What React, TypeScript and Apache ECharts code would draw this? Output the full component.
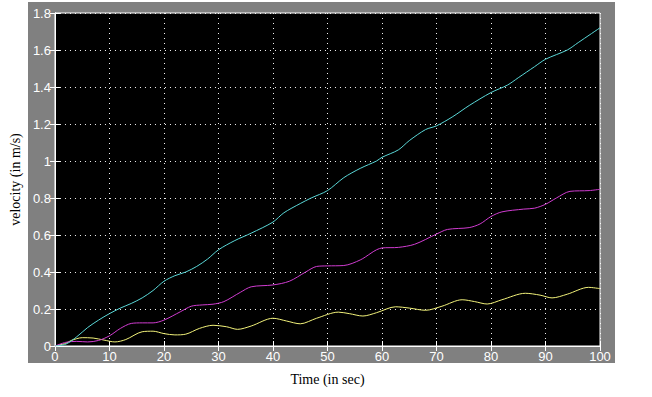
import React, { useEffect, useRef } from "react";
import * as echarts from "echarts";

const xTicks = [0, 10, 20, 30, 40, 50, 60, 70, 80, 90, 100];
const yTicks = [0, 0.2, 0.4, 0.6, 0.8, 1, 1.2, 1.4, 1.6, 1.8];

const cyanT = [0, 2, 4, 6, 8, 10, 12, 14, 16, 18, 20, 22, 24, 26, 28, 30, 33, 36, 40, 42, 45, 47, 50, 53, 56, 59, 60, 63, 65, 68, 70, 73, 76, 80, 83, 85, 88, 90, 94, 96, 100];
const cyanV = [0, 0.01, 0.05, 0.1, 0.14, 0.175, 0.205, 0.23, 0.26, 0.3, 0.35, 0.38, 0.4, 0.43, 0.47, 0.52, 0.57, 0.61, 0.67, 0.72, 0.77, 0.8, 0.84, 0.91, 0.96, 1.0, 1.02, 1.06, 1.11, 1.17, 1.19, 1.24, 1.3, 1.37, 1.41, 1.45, 1.51, 1.55, 1.6, 1.64, 1.72];

const magentaT = [0, 2, 4, 6, 8, 10, 12, 14, 16, 18, 20, 23, 25, 27, 29, 31, 34, 36, 40, 43, 46, 48, 50, 53, 56, 60, 63, 66, 70, 72, 76, 78, 80, 82, 86, 88, 90, 92, 94.5, 98, 100];
const magentaV = [0, 0.02, 0.025, 0.022, 0.03, 0.055, 0.095, 0.122, 0.125, 0.125, 0.14, 0.185, 0.215, 0.222, 0.226, 0.24, 0.29, 0.32, 0.33, 0.35, 0.4, 0.43, 0.433, 0.435, 0.465, 0.53, 0.533, 0.55, 0.605, 0.63, 0.64, 0.66, 0.7, 0.725, 0.74, 0.745, 0.766, 0.8, 0.836, 0.84, 0.847];

const yellowT = [0, 2, 3, 5, 7, 9, 11, 13, 16, 18, 20, 22, 24, 26.5, 29, 31.5, 33.5, 36, 40, 42.5, 45, 48, 52, 54, 56.5, 59, 62.5, 65, 68, 71, 74.7, 77, 79.3, 82, 86.3, 89, 91.2, 94, 97.9, 100];
const yellowV = [0, 0.015, 0.03, 0.045, 0.043, 0.032, 0.022, 0.035, 0.077, 0.08, 0.067, 0.06, 0.064, 0.095, 0.112, 0.104, 0.09, 0.108, 0.15, 0.135, 0.12, 0.15, 0.183, 0.175, 0.162, 0.18, 0.212, 0.205, 0.193, 0.215, 0.25, 0.24, 0.227, 0.25, 0.285, 0.275, 0.26, 0.28, 0.317, 0.31];

const pairs = (t: number[], v: number[]) => t.map((x, i) => [x, v[i]]);

export default function App() {
  const ref = useRef<HTMLDivElement>(null);
  useEffect(() => {
    if (!ref.current) return;
    const chart = echarts.init(ref.current, undefined, { renderer: "svg" });
    const labelFont = { color: "#ffffff", fontSize: 13, fontFamily: "Liberation Sans, Arial, sans-serif" };
    const grid = "rgba(255,255,255,0.95)";
    const mkLine = (name: string, color: string, t: number[], v: number[]) => ({
      name,
      type: "line",
      data: pairs(t, v),
      showSymbol: false,
      smooth: 0.3,
      lineStyle: { color, width: 1 },
      xAxisIndex: 0,
      yAxisIndex: 0,
    });
    chart.setOption({
      animation: false,
      backgroundColor: "#ffffff",
      graphic: [
        {
          type: "rect",
          z: -10,
          silent: true,
          shape: { x: 28, y: 2, width: 587, height: 361 },
          style: { fill: "#808080" },
        },
      ],
      grid: {
        left: 54,
        top: 13,
        width: 546,
        height: 333,
        show: true,
        backgroundColor: "#000000",
        borderColor: "#ffffff",
        borderWidth: 1,
      },
      xAxis: [
        {
          type: "value",
          min: 0,
          max: 100,
          interval: 10,
          name: "Time (in sec)",
          nameLocation: "middle",
          nameGap: 26,
          nameTextStyle: { color: "#000", fontSize: 14, fontFamily: "Liberation Serif, Times New Roman, serif" },
          axisLine: { show: true, lineStyle: { color: "#fff", width: 1 } },
          axisTick: { show: true, inside: true, length: 5, lineStyle: { color: "#fff" } },
          axisLabel: { ...labelFont, margin: 4 },
          splitLine: { show: true, lineStyle: { color: grid, type: [1, 4], width: 1 } },
        },
        {
          type: "value",
          position: "top",
          min: 0,
          max: 100,
          interval: 10,
          axisLine: { show: true, lineStyle: { color: "#fff", width: 1 } },
          axisTick: { show: true, inside: true, length: 5, lineStyle: { color: "#fff" } },
          axisLabel: { show: false },
          splitLine: { show: false },
        },
      ],
      yAxis: [
        {
          type: "value",
          min: 0,
          max: 1.8,
          interval: 0.2,
          name: "velocity (in m/s)",
          nameLocation: "middle",
          nameGap: 32,
          nameTextStyle: { color: "#000", fontSize: 14, fontFamily: "Liberation Serif, Times New Roman, serif" },
          axisLine: { show: true, lineStyle: { color: "#fff", width: 1 } },
          axisTick: { show: true, inside: true, length: 5, lineStyle: { color: "#fff" } },
          axisLabel: {
            ...labelFont,
            margin: 4,
            formatter: (v: number) => String(parseFloat(v.toFixed(1))),
          },
          splitLine: { show: true, lineStyle: { color: grid, type: [1, 4], width: 1 } },
        },
        {
          type: "value",
          position: "right",
          min: 0,
          max: 1.8,
          interval: 0.2,
          axisLine: { show: true, lineStyle: { color: "#fff", width: 1 } },
          axisTick: { show: true, inside: true, length: 5, lineStyle: { color: "#fff" } },
          axisLabel: { show: false },
          splitLine: { show: false },
        },
      ],
      series: [
        mkLine("yellow", "#f2f27a", yellowT, yellowV),
        mkLine("magenta", "#d03cd0", magentaT, magentaV),
        mkLine("cyan", "#5ad8d8", cyanT, cyanV),
      ],
    });
    return () => chart.dispose();
  }, []);
  return (
    <div
      ref={ref}
      style={{ position: "fixed", left: 0, top: 0, width: 652, height: 397 }}
    />
  );
}
